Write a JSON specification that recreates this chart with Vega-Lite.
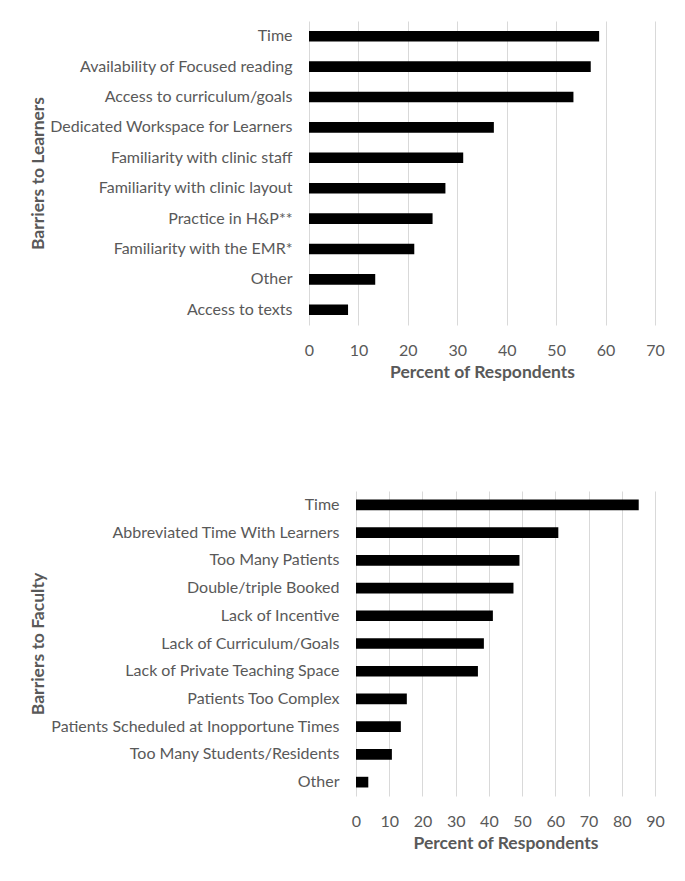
{
  "$schema": "https://vega.github.io/schema/vega-lite/v6.json",
  "padding": {"top": 21, "left": 29, "right": 0, "bottom": 0},
  "background": "white",
  "datasets": {
    "learners": [
      {"barrier": "Time", "pct": 58.7},
      {"barrier": "Availability of Focused reading", "pct": 57.0},
      {"barrier": "Access to curriculum/goals", "pct": 53.5},
      {"barrier": "Dedicated Workspace for Learners", "pct": 37.4},
      {"barrier": "Familiarity with clinic staff", "pct": 31.2},
      {"barrier": "Familiarity with clinic layout", "pct": 27.6},
      {"barrier": "Practice in H&P**", "pct": 25.0},
      {"barrier": "Familiarity with the EMR*", "pct": 21.3},
      {"barrier": "Other", "pct": 13.4},
      {"barrier": "Access to texts", "pct": 7.9}
    ],
    "faculty": [
      {"barrier": "Time", "pct": 85.1},
      {"barrier": "Abbreviated Time With Learners", "pct": 60.9},
      {"barrier": "Too Many Patients", "pct": 49.2},
      {"barrier": "Double/triple Booked", "pct": 47.4},
      {"barrier": "Lack of Incentive", "pct": 41.2},
      {"barrier": "Lack of Curriculum/Goals", "pct": 38.5},
      {"barrier": "Lack of Private Teaching Space", "pct": 36.7},
      {"barrier": "Patients Too Complex", "pct": 15.3},
      {"barrier": "Patients Scheduled at Inopportune Times", "pct": 13.5},
      {"barrier": "Too Many Students/Residents", "pct": 10.8},
      {"barrier": "Other", "pct": 3.7}
    ]
  },
  "spacing": 110,
  "vconcat": [
    {
      "width": 346,
      "height": 304,
      "data": {"name": "learners"},
      "mark": {"type": "bar", "color": "black"},
      "encoding": {
        "y": {
          "field": "barrier", "type": "nominal", "sort": "-x",
          "scale": {"paddingInner": 0.65, "paddingOuter": 0.325},
          "axis": {"title": "Barriers to Learners", "titleX": -266, "titleBaseline": "alphabetic"}
        },
        "x": {
          "field": "pct", "type": "quantitative",
          "scale": {"domain": [0, 70], "nice": false},
          "axis": {"title": "Percent of Respondents", "values": [0, 10, 20, 30, 40, 50, 60, 70], "titleY": 52, "titleBaseline": "alphabetic"}
        }
      }
    },
    {
      "width": 346,
      "height": 305,
      "data": {"name": "faculty"},
      "mark": {"type": "bar", "color": "black"},
      "encoding": {
        "y": {
          "field": "barrier", "type": "nominal", "sort": "-x",
          "scale": {"paddingInner": 0.614, "paddingOuter": 0.307},
          "axis": {"title": "Barriers to Faculty", "titleX": -313, "titleBaseline": "alphabetic", "offset": -47}
        },
        "x": {
          "field": "pct", "type": "quantitative",
          "scale": {"domain": [0, 90], "nice": false, "range": [47, 346]},
          "axis": {"title": "Percent of Respondents", "values": [0, 10, 20, 30, 40, 50, 60, 70, 80, 90], "titleY": 52, "titleBaseline": "alphabetic", "titleX": 196.5}
        }
      }
    }
  ],
  "config": {
    "font": "Lato",
    "view": {"stroke": null},
    "axis": {
      "labelFont": "Lato",
      "labelFontSize": 16,
      "labelColor": "#595959",
      "titleFont": "Lato",
      "titleFontSize": 17.5,
      "titleFontWeight": "bold",
      "titleColor": "#595959",
      "ticks": false,
      "tickSize": 0,
      "domain": false
    },
    "axisY": {"grid": false, "labelPadding": 17, "labelLimit": 400},
    "axisX": {"grid": true, "gridColor": "#d9d9d9", "gridWidth": 1, "labelPadding": 17, "labelBaseline": "top", "labelFlush": false}
  }
}
